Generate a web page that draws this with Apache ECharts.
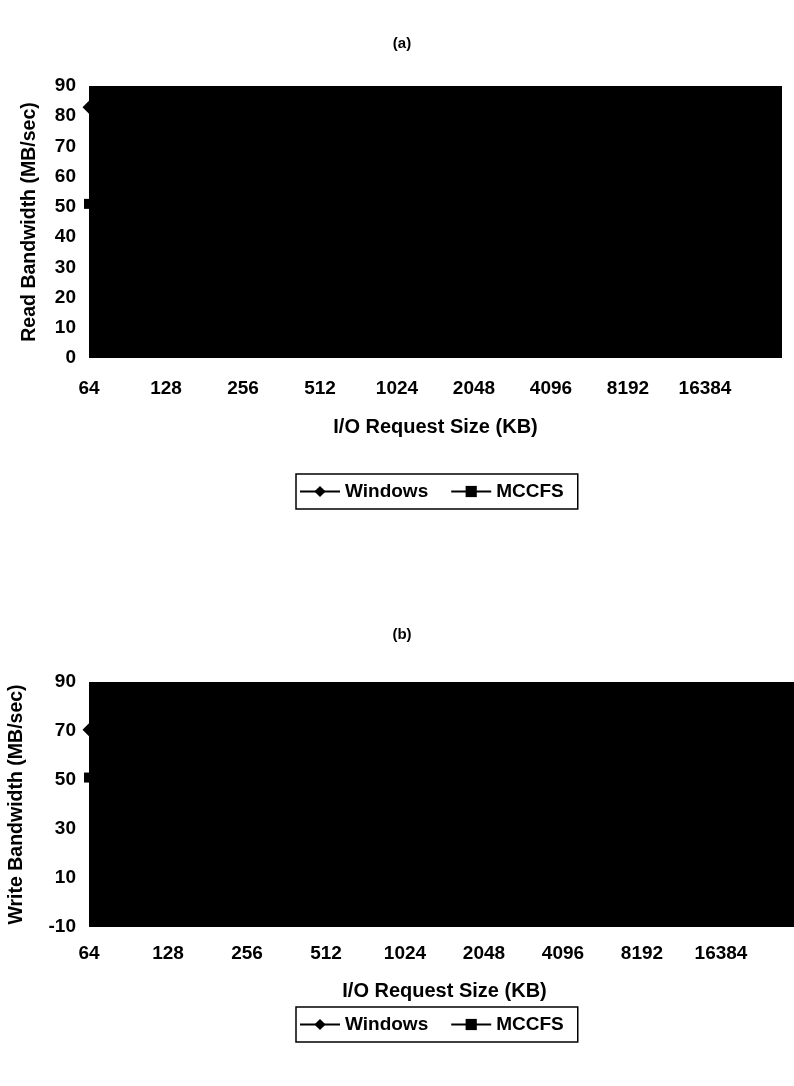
<!DOCTYPE html>
<html>
<head>
<meta charset="utf-8">
<script src="https://cdn.jsdelivr.net/npm/echarts@6/dist/echarts.min.js"></script>
<style>html,body{margin:0;padding:0;background:#fff}#c{width:794px;height:1086px}</style>
</head>
<body>
<div id="c"></div>
<script>
// Categories (I/O request size, KB)
var sizes = ['64','128','256','512','1024','2048','4096','8192','16384','32768'];
// Read bandwidth (MB/sec) — only the first points are visible; the rest are estimates (hidden in the black plot area)
var readWindows = [83, 85, 86, 87, 87, 87, 87, 87, 87, null];
var readMCCFS   = [51, 60, 68, 75, 80, 83, 84, 85, 85, null];
// Write bandwidth (MB/sec)
var writeWindows = [70.5, 72, 74, 75, 75, 75, 75, 75, 75, null];
var writeMCCFS   = [51, 58, 63, 67, 70, 71, 72, 72, 72, null];
var seriesNames = ['Windows', 'MCCFS'];
var readTicks = {min: 0, max: 90, interval: 10};
var writeTicks = {min: -10, max: 90, interval: 20};

var FONT = 'Liberation Sans';
var txt = {color: '#000', fontFamily: FONT, fontWeight: 'bold', fontSize: 19};

function xAxis(gridIndex, margin, gap) {
  return {
    type: 'category', gridIndex: gridIndex, data: sizes, boundaryGap: false,
    axisLine: {show: false}, axisTick: {show: false}, splitLine: {show: false},
    axisLabel: Object.assign({margin: margin, interval: 0,
      formatter: function (v) { return v === sizes[sizes.length - 1] ? '' : v; }}, txt),
    name: 'I/O Request Size (KB)', nameLocation: 'middle', nameGap: gap,
    nameTextStyle: Object.assign({}, txt, {fontSize: 20})
  };
}
function yAxis(gridIndex, t, name, gap) {
  return {
    type: 'value', gridIndex: gridIndex, min: t.min, max: t.max, interval: t.interval,
    axisLine: {show: false}, axisTick: {show: false}, splitLine: {show: false},
    axisLabel: Object.assign({margin: 13}, txt),
    name: name, nameLocation: 'middle', nameGap: gap, nameRotate: 90,
    nameTextStyle: Object.assign({}, txt, {fontSize: 19.5})
  };
}
function series(name, data, idx, symbol, size) {
  return {
    name: name, type: 'line', xAxisIndex: idx, yAxisIndex: idx, data: data,
    symbol: symbol, symbolSize: size, showSymbol: true,
    lineStyle: {color: '#000', width: 2}, itemStyle: {color: '#000'},
    clip: false, animation: false, z: 5
  };
}
function legend(top) {
  return {
    data: seriesNames, top: top, left: 296, orient: 'horizontal',
    itemWidth: 40, itemHeight: 14, itemGap: 22,
    borderColor: '#000', borderWidth: 1.5, padding: [8, 14, 8, 3],
    textStyle: Object.assign({}, txt, {fontSize: 19}),
    selectedMode: false
  };
}

var chart = echarts.init(document.getElementById('c'), null, {renderer: 'canvas'});
chart.setOption({
  backgroundColor: '#fff',
  animation: false,
  title: [
    {text: '(a)', left: 397, top: 31, textAlign: 'center', textStyle: Object.assign({}, txt, {fontSize: 15})},
    {text: '(b)', left: 397, top: 622, textAlign: 'center', textStyle: Object.assign({}, txt, {fontSize: 15})}
  ],
  grid: [
    {left: 89, top: 86, width: 693, height: 272, show: true, backgroundColor: '#000', borderColor: '#000', borderWidth: 0, containLabel: false, outerBoundsMode: 'none'},
    {left: 89, top: 682, width: 711, height: 245, show: true, backgroundColor: '#000', borderColor: '#000', borderWidth: 0, containLabel: false, outerBoundsMode: 'none'}
  ],
  xAxis: [xAxis(0, 21, 59), xAxis(1, 17, 54)],
  yAxis: [yAxis(0, readTicks, 'Read Bandwidth (MB/sec)', 49), yAxis(1, writeTicks, 'Write Bandwidth (MB/sec)', 62)],
  legend: [legend(474), legend(1007)],
  series: [
    series('Windows', readWindows, 0, 'diamond', 13),
    series('MCCFS', readMCCFS, 0, 'rect', 10),
    series('Windows', writeWindows, 1, 'diamond', 13),
    series('MCCFS', writeMCCFS, 1, 'rect', 10)
  ]
});
</script>
</body>
</html>
